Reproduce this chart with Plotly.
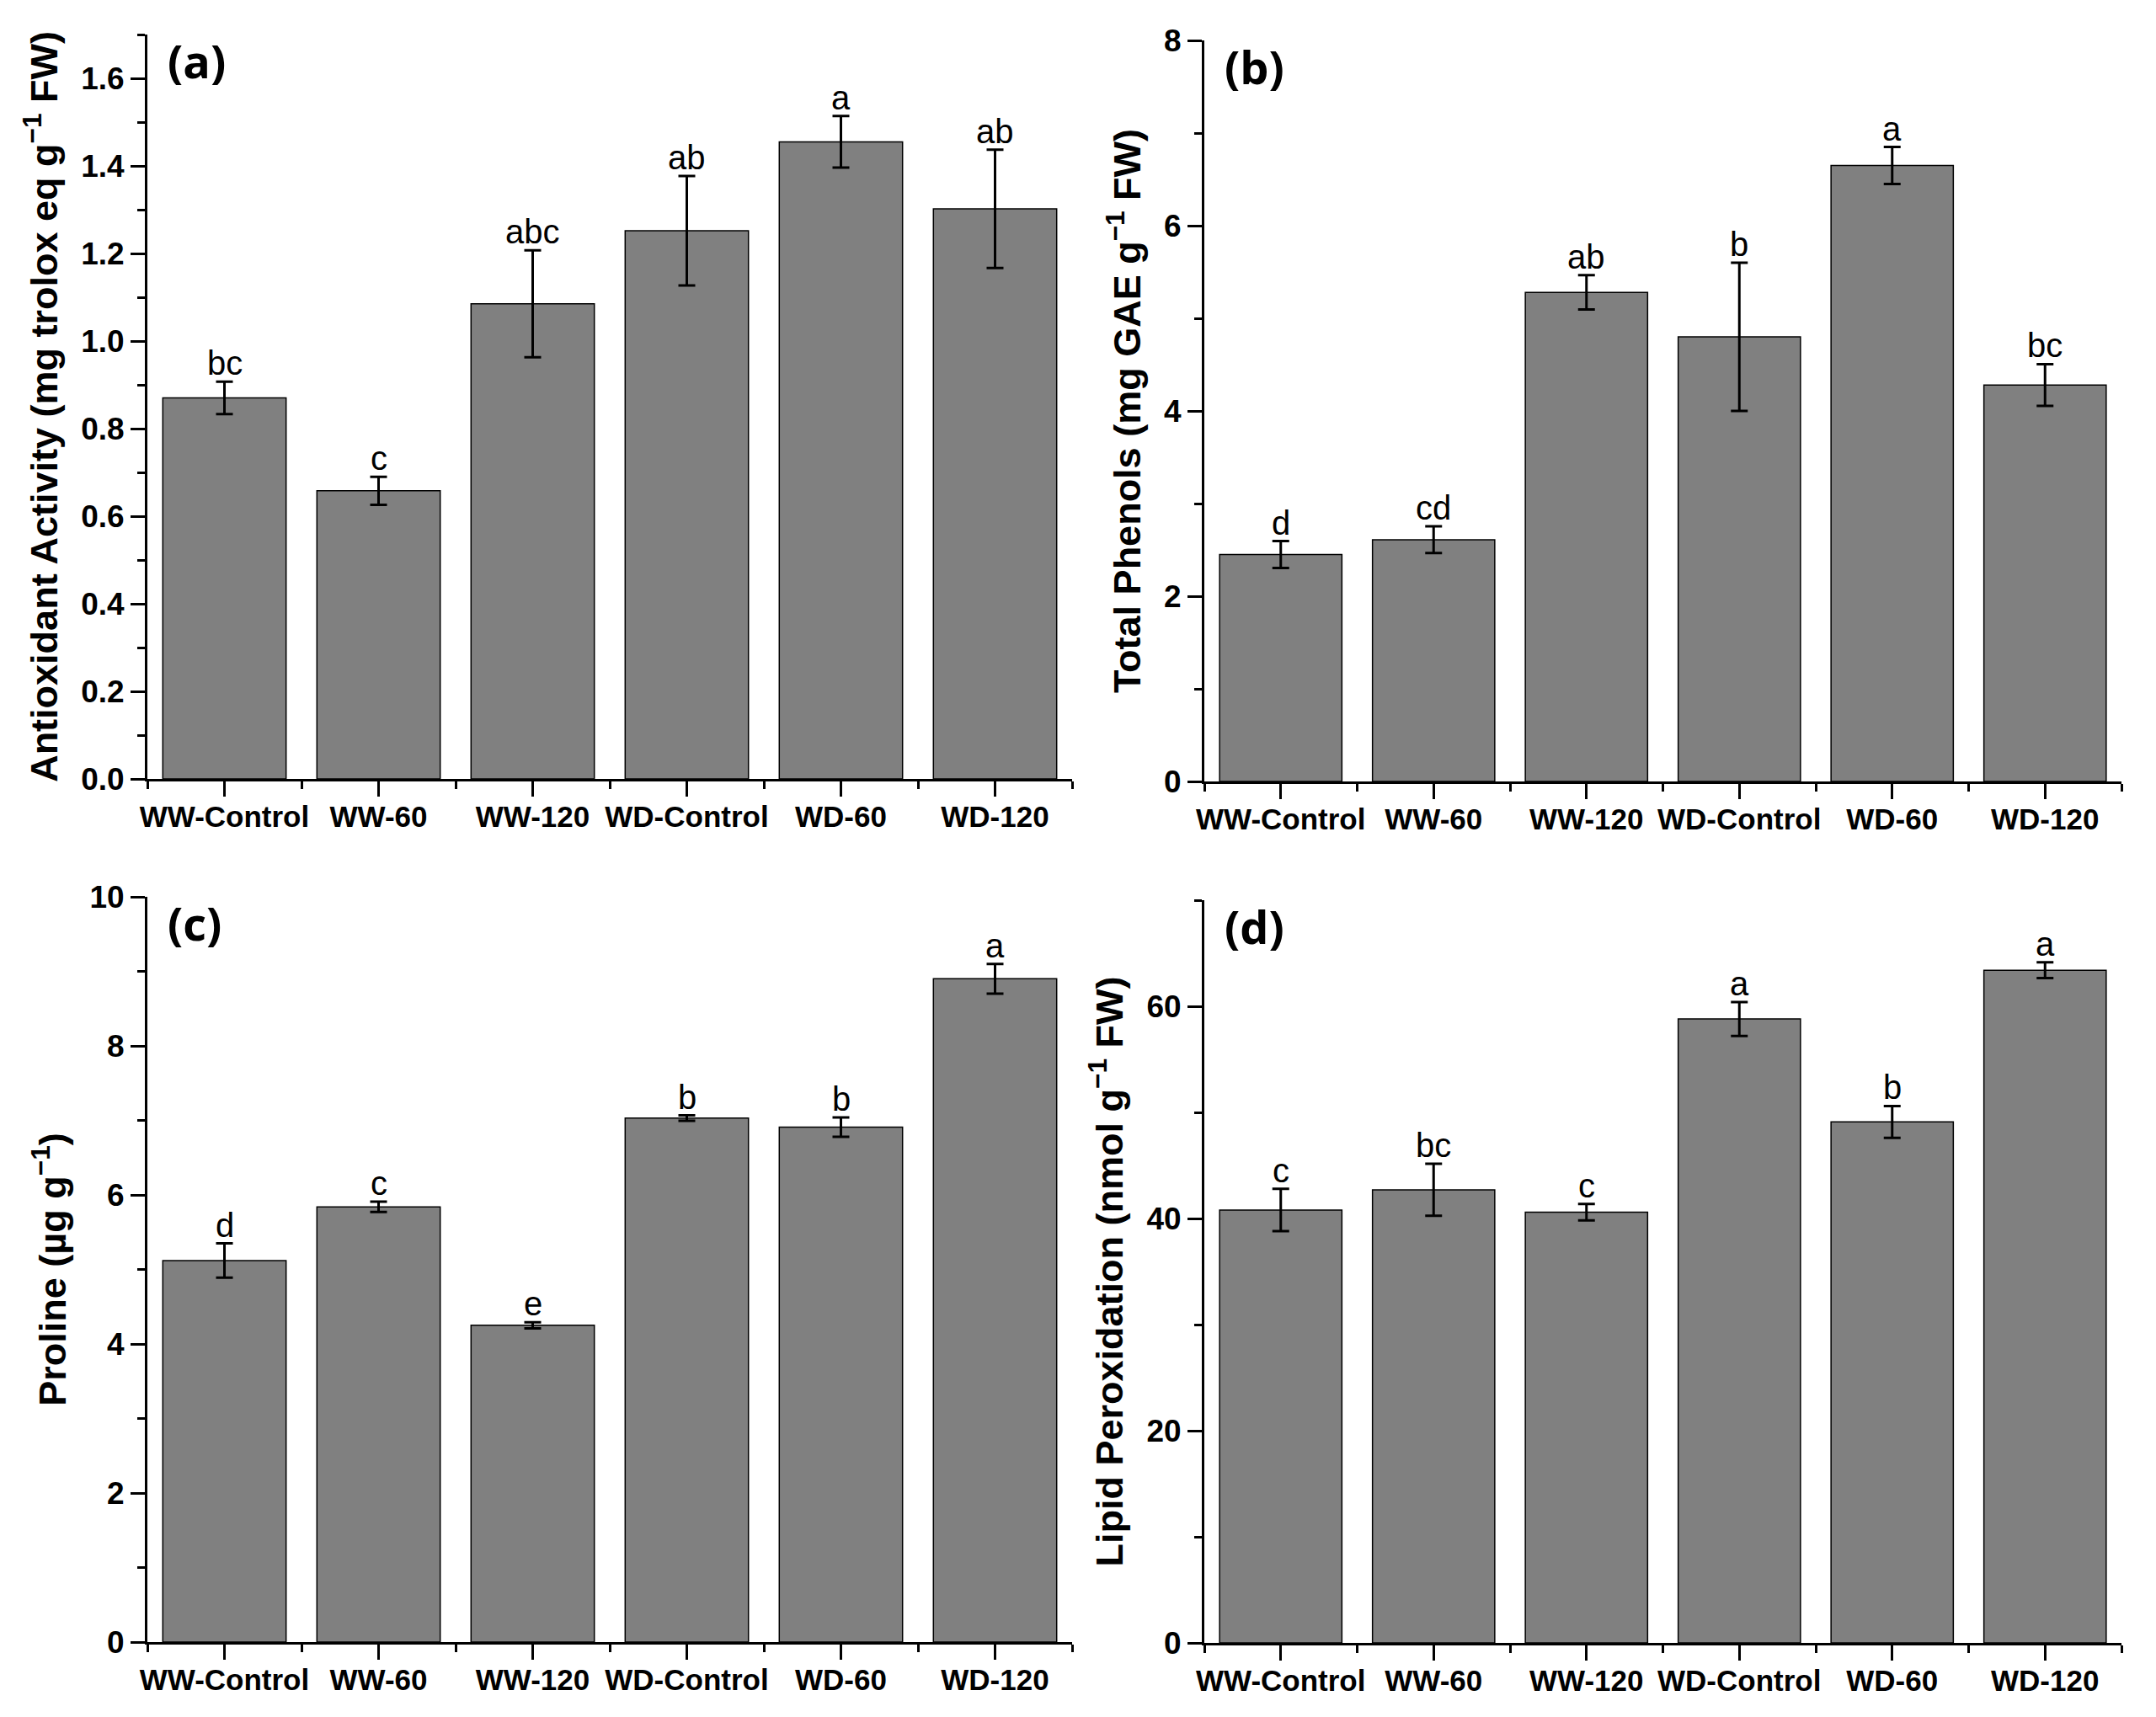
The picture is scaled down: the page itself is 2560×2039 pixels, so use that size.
import plotly.graph_objects as go

W, H = 2560, 2039

categories = ["WW-Control", "WW-60", "WW-120", "WD-Control", "WD-60", "WD-120"]

antioxidant = [0.870, 0.658, 1.085, 1.252, 1.455, 1.302]
antioxidant_err = [0.037, 0.032, 0.122, 0.125, 0.059, 0.135]
antioxidant_sig = ["bc", "c", "abc", "ab", "a", "ab"]

phenols = [2.45, 2.61, 5.28, 4.80, 6.65, 4.28]
phenols_err = [0.145, 0.145, 0.185, 0.80, 0.20, 0.225]
phenols_sig = ["d", "cd", "ab", "b", "a", "bc"]

proline = [5.12, 5.84, 4.25, 7.03, 6.91, 8.90]
proline_err = [0.23, 0.07, 0.04, 0.037, 0.13, 0.20]
proline_sig = ["d", "c", "e", "b", "b", "a"]

lipid = [40.8, 42.7, 40.6, 58.8, 49.1, 63.4]
lipid_err = [2.0, 2.45, 0.77, 1.6, 1.5, 0.75]
lipid_sig = ["c", "bc", "c", "a", "b", "a"]

panels = [
    dict(vals=antioxidant, err=antioxidant_err, sig=antioxidant_sig, label="(a)",
         title="Antioxidant Activity (mg trolox eq g<sup>−1</sup> FW)",
         yrange=[0, 1.7], dtick=0.2, minor=0.1, fmt=".1f",
         px=(175, 1273), py=(41, 925)),
    dict(vals=phenols, err=phenols_err, sig=phenols_sig, label="(b)",
         title="Total Phenols (mg GAE g<sup>−1</sup> FW)",
         yrange=[0, 8], dtick=2, minor=1, fmt="d",
         px=(1430, 2519), py=(48, 928)),
    dict(vals=proline, err=proline_err, sig=proline_sig, label="(c)",
         title="Proline (µg g<sup>−1</sup>)",
         yrange=[0, 10], dtick=2, minor=1, fmt="d",
         px=(175, 1273), py=(1065, 1950)),
    dict(vals=lipid, err=lipid_err, sig=lipid_sig, label="(d)",
         title="Lipid Peroxidation (nmol g<sup>−1</sup> FW)",
         yrange=[0, 70], dtick=20, minor=10, fmt="d",
         px=(1430, 2519), py=(1069, 1951)),
]

TICKFONT = dict(family="Liberation Sans, Arial", size=35, color="black", weight="bold")
YTICKFONT = dict(family="Liberation Sans, Arial", size=37, color="black", weight="bold")
TITLEFONT = dict(family="Liberation Sans, Arial", size=45, color="black", weight="bold")
SIGFONT = dict(family="Liberation Sans, Arial", size=40, color="black")
LABELFONT = dict(family="Open Sans, Liberation Sans", size=54, color="black", weight="bold")

fig = go.Figure()
layout = dict(width=W, height=H, margin=dict(l=0, r=0, t=0, b=0),
              paper_bgcolor="white", plot_bgcolor="white", showlegend=False,
              bargap=0.2)
annotations = []
xs = list(range(len(categories)))

for i, p in enumerate(panels, start=1):
    xa = "x" if i == 1 else f"x{i}"
    ya = "y" if i == 1 else f"y{i}"
    fig.add_trace(go.Bar(
        x=xs, y=p["vals"], width=0.8, xaxis=xa, yaxis=ya,
        marker=dict(color="#808080", line=dict(color="black", width=1.5)),
        error_y=dict(type="data", array=p["err"], visible=True,
                     color="black", thickness=3, width=10),
    ))
    x0, x1 = p["px"]
    y0, y1 = p["py"]
    ymax = p["yrange"][1]
    nmaj = int(round(ymax / p["dtick"]))
    ticks = [k * p["dtick"] for k in range(nmaj + 1)]
    nmin = int(round(ymax / p["minor"]))
    minors = [k * p["minor"] for k in range(nmin + 1)]
    xkey = "xaxis" if i == 1 else f"xaxis{i}"
    ykey = "yaxis" if i == 1 else f"yaxis{i}"
    layout[xkey] = dict(
        domain=[x0 / W, x1 / W], anchor=ya, range=[-0.5, 5.5], automargin=False,
        tickmode="array", tickvals=xs, ticktext=categories, tickangle=0,
        showline=True, linecolor="black", linewidth=3,
        ticks="outside", ticklen=18, tickwidth=3, tickcolor="black",
        tickfont=TICKFONT, showgrid=False, zeroline=False, ticklabelstandoff=-6,
        minor=dict(tickmode="array", tickvals=[k - 0.5 for k in range(7)],
                   ticks="outside", ticklen=9, tickwidth=3, tickcolor="black", showgrid=False),
    )
    layout[ykey] = dict(
        domain=[1 - y1 / H, 1 - y0 / H], anchor=xa, range=p["yrange"], automargin=False,
        tickmode="array", tickvals=ticks,
        ticktext=[format(t, p["fmt"]) if p["fmt"] != "d" else str(int(round(t))) for t in ticks],
        showline=True, linecolor="black", linewidth=3,
        ticks="outside", ticklen=17, tickwidth=3, tickcolor="black",
        tickfont=YTICKFONT, showgrid=False, zeroline=False,
        title=dict(text=p["title"], font=TITLEFONT, standoff=14),
        minor=dict(tickmode="array", tickvals=minors,
                   ticks="outside", ticklen=9, tickwidth=3, tickcolor="black", showgrid=False),
    )
    for j, (v, e, s) in enumerate(zip(p["vals"], p["err"], p["sig"])):
        annotations.append(dict(x=j, y=v + e, xref=xa, yref=ya, text=s,
                                showarrow=False, yanchor="bottom", font=SIGFONT, yshift=-2))
    annotations.append(dict(x=0.02, y=0.965, xref=f"{xa} domain", yref=f"{ya} domain",
                            text=p["label"], showarrow=False, xanchor="left", yanchor="middle",
                            font=LABELFONT))

layout["annotations"] = annotations
fig.update_layout(**layout)
fig.write_html("out.html")
